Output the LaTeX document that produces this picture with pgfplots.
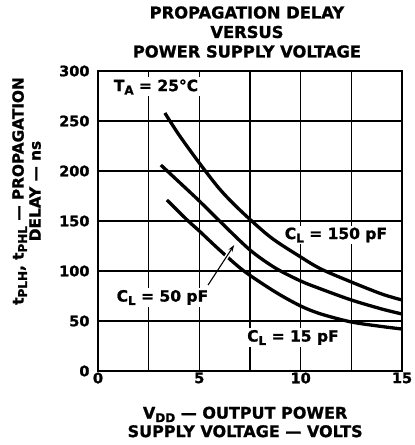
\documentclass[border=0pt]{standalone}
\usepackage{fontspec}
\setmainfont{DejaVu Sans}[BoldFeatures={FakeBold=1.2}]
\usepackage{pgfplots}
\pgfplotsset{compat=1.18}
\usetikzlibrary{arrows.meta}
\newcommand\sub[1]{\raisebox{-0.4ex}{\fontsize{12}{12}\selectfont #1}}
\begin{document}
\begin{tikzpicture}[font=\bfseries]
\useasboundingbox (0,0) rectangle (415pt,445pt);
\begin{axis}[
  at={(98pt,74pt)}, anchor=south west,
  scale only axis, width=304pt, height=300pt,
  xmin=0, xmax=15, ymin=0, ymax=300,
  xtick={0,5,10,15}, ytick={0,50,100,150,200,250,300},
  extra x ticks={2.5,7.5,12.5}, extra x tick labels={},
  extra x tick style={grid=major},
  grid=major, grid style={black, line width=1.3pt},
  axis line style={line width=2.2pt},
  major tick length=0pt,
  /pgf/number format/assume math mode=true,
  ticklabel style={font=\fontsize{14.5}{16}\selectfont\bfseries},
  xticklabel style={yshift=2pt},
  yticklabel style={xshift=-5pt},
  title style={font=\fontsize{16.3}{19.5}\selectfont\bfseries, align=center, at={(axis description cs:0.49,1.11)}, anchor=center},
  title={PROPAGATION DELAY\\VERSUS\\POWER SUPPLY VOLTAGE},
  xlabel style={font=\fontsize{16}{18.5}\selectfont\bfseries, align=center, at={(axis description cs:0.484,-0.17)}, anchor=center},
  xlabel={V\sub{DD} — OUTPUT POWER\\SUPPLY VOLTAGE — VOLTS},
  ylabel style={font=\fontsize{15.3}{17}\selectfont\bfseries, align=center, at={(axis description cs:-0.235,0.6)}, anchor=center},
  ylabel={t\sub{PLH}, t\sub{PHL} — PROPAGATION\\DELAY — ns},
  clip=false,
]
\addplot[black, line width=3.3pt, smooth] coordinates {
 (3.3,258) (4,236) (5,208) (6,182) (7,161) (8.5,134) (10,114) (11,102) (12.5,89) (14,77) (15,71)};
\addplot[black, line width=3.3pt, smooth] coordinates {
 (3.1,206) (4,189) (5,170) (6,150) (7.5,121) (8.75,103) (10,90) (11,82) (12.5,71) (14,62) (15,57)};
\addplot[black, line width=3.3pt, smooth] coordinates {
 (3.4,171) (4.4,151) (5,140) (6,121) (7.2,100) (8.75,79) (10,65) (11,57) (12.5,49) (14,44.5) (15,42)};
\draw[white, line width=4pt] (axis cs:6.18,109) -- (axis cs:6.52,120);
\draw[black, line width=1.1pt, -{Stealth[length=7pt,width=4.5pt]}] (axis cs:5.43,86) -- (axis cs:6.72,126);
\node[fill=white, inner sep=2pt, font=\fontsize{15.5}{17}\selectfont\bfseries] at (axis cs:2.86,284) {T\sub{A} = 25°C};
\node[fill=white, inner sep=2pt, font=\fontsize{15.5}{17}\selectfont\bfseries] at (axis cs:11.74,136) {C\sub{L} = 150 pF};
\node[fill=white, inner sep=2pt, font=\fontsize{15.5}{17}\selectfont\bfseries] at (axis cs:9.62,33.5) {C\sub{L} = 15 pF};
\node[fill=white, inner sep=2pt, font=\fontsize{15.5}{17}\selectfont\bfseries] at (axis cs:3.18,73.5) {C\sub{L} = 50 pF};
\end{axis}
\end{tikzpicture}
\end{document}
